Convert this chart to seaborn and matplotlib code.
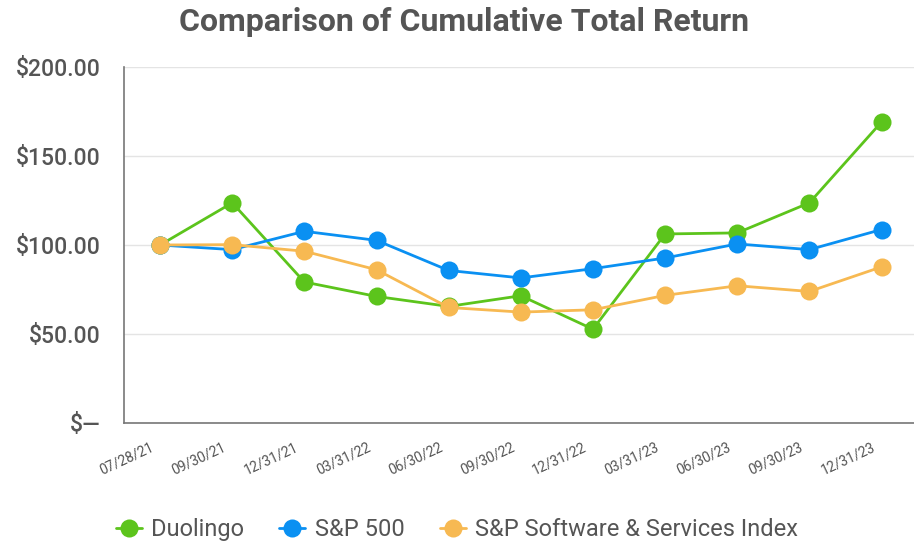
import pandas as pd
import seaborn as sns
import matplotlib.pyplot as plt
import matplotlib.transforms as mtrans
from matplotlib.ticker import FuncFormatter

dates = ["07/28/21", "09/30/21", "12/31/21", "03/31/22", "06/30/22", "09/30/22",
         "12/31/22", "03/31/23", "06/30/23", "09/30/23", "12/31/23"]
duolingo = [100.0, 123.7, 79.2, 71.1, 65.5, 71.5, 52.7, 106.2, 106.8, 123.7, 169.1]
sp500 = [100.0, 97.4, 107.7, 102.6, 85.7, 81.5, 86.7, 92.7, 100.6, 97.4, 108.7]
sp_software = [100.0, 100.2, 96.5, 86.1, 64.9, 62.3, 63.6, 71.7, 77.1, 73.9, 87.7]

series_names = ["Duolingo", "S&P 500", "S&P Software & Services Index"]
colors = ["#5cc41c", "#0a90f2", "#f7b952"]


def build_df():
    frames = []
    for name, vals in zip(series_names, [duolingo, sp500, sp_software]):
        frames.append(pd.DataFrame({"date": dates, "value": vals, "series": name}))
    return pd.concat(frames, ignore_index=True)


def money(v, pos):
    if v == 0:
        return "$\u2014"
    return f"${v:,.2f}"


def main():
    df = build_df()
    sns.set_style("white")
    plt.rcParams["font.family"] = ["Roboto", "DejaVu Sans"]

    fig = plt.figure(figsize=(9.14, 5.47), dpi=100)
    ax = fig.add_axes([0.1357, 0.2267, 0.8643, 0.6508])

    sns.lineplot(data=df, x="date", y="value", hue="series", hue_order=series_names,
                 palette=colors, marker="o", markersize=13, markeredgewidth=0,
                 linewidth=2, sort=False, ax=ax)

    ax.set_ylim(0, 200)
    ax.set_xlim(-0.5, 10.45)
    ax.set_yticks([0, 50, 100, 150, 200])
    ax.yaxis.set_major_formatter(FuncFormatter(money))
    ax.yaxis.grid(True, color="#e4e4e4", linewidth=1)
    ax.xaxis.grid(False)
    ax.set_xlabel("")
    ax.set_ylabel("")

    for side in ["top", "right"]:
        ax.spines[side].set_visible(False)
    for side in ["left", "bottom"]:
        ax.spines[side].set_color("#777777")
        ax.spines[side].set_linewidth(1.2)

    ax.tick_params(axis="y", length=0, pad=17, labelsize=16.5, labelcolor="#555555")
    ax.tick_params(axis="x", length=0, pad=12, labelsize=10, labelcolor="#555555")
    for lbl in ax.get_yticklabels():
        lbl.set_fontweight("medium")
    plt.setp(ax.get_xticklabels(), rotation=25, ha="right", rotation_mode="anchor")
    shift = mtrans.ScaledTranslation(-10 / 100, 0, fig.dpi_scale_trans)
    for lbl in ax.get_xticklabels():
        lbl.set_transform(lbl.get_transform() + shift)

    ax.legend_.remove()
    handles, labels = ax.get_legend_handles_labels()
    fig.legend(handles, labels, loc="lower center", bbox_to_anchor=(0.5, -0.028), ncol=3,
               frameon=False, fontsize=17, handlelength=1.1, handletextpad=0.4,
               columnspacing=1.5, labelcolor="#555555")

    fig.text(0.508, 0.96, "Comparison of Cumulative Total Return", ha="center", va="center",
             fontsize=23, fontweight="bold", color="#555555")

    fig.savefig("out.png", dpi=100)


if __name__ == "__main__":
    main()
